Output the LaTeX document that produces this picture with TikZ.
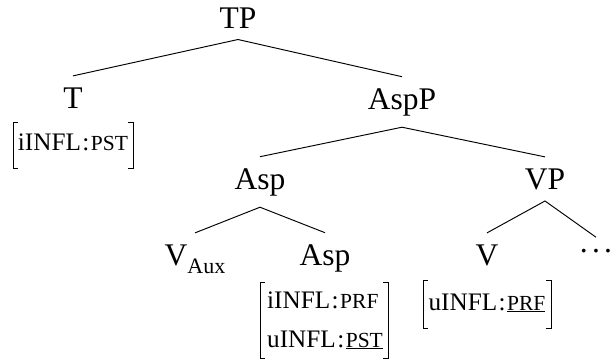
\documentclass[tikz,border=0pt]{standalone}
\usepackage{fontspec}
\setmainfont{Liberation Serif}
\newcommand\fsc[1]{{\fontsize{21.5}{24}\selectfont #1}}
\newcommand\fcol{\kern1.5pt:\kern1.5pt}
\newcommand\fbrk[4]{%
  \draw[brkline] (#1+5,#2) -- (#1,#2) -- (#1,#4) -- (#1+5,#4);
  \draw[brkline] (#3-5,#2) -- (#3,#2) -- (#3,#4) -- (#3-5,#4);}
\begin{document}
\begin{tikzpicture}[x=1pt,y=-1pt,
  lab/.style={font=\fontsize{31.5}{36}\selectfont, inner sep=0pt, outer xsep=0pt, outer ysep=11.5pt, anchor=base},
  feat/.style={font=\fontsize{25.2}{30}\selectfont, inner sep=0pt},
  edge/.style={line width=0.95pt, black},
  brkline/.style={line width=0.9pt, black}]
\useasboundingbox (0,0) rectangle (610,360);
% tree labels
\node[lab] (TP)   at (238,28)  {TP};
\node[lab] (T)    at (73,108)  {T};
\node[lab] (AspP) at (402,109) {AspP};
\node[lab] (Asp1) at (260,189) {Asp};
\node[lab] (VP)   at (545,189) {VP};
\node[lab] (VAux) at (195,265) {V\raisebox{-8pt}{\fontsize{22}{24}\selectfont Aux}};
\node[lab] (Asp2) at (325,265) {Asp};
\node[lab] (V)    at (487,265) {V};
\node[lab] (dots) at (596,252) {.\kern4.2pt.\kern4.2pt.};
% edges
\draw[edge] (T.north) -- (TP.south) -- (AspP.north);
\draw[edge] (Asp1.north) -- (AspP.south) -- (VP.north);
\draw[edge] (VAux.north) -- (Asp1.south) -- (Asp2.north);
\draw[edge] (V.north) -- (VP.south) -- (dots.north);
% features
\node[feat, anchor=base] (fT) at (73,150) {iINFL\fcol\fsc{PST}};
\fbrk{13}{122}{133}{168}
\node[feat, anchor=base west] (fA1) at (267,308) {iINFL\fcol\fsc{PRF}};
\node[feat, anchor=base west] (fA2) at (267,347) {uINFL\fcol\underline{\fsc{PST}}};
\fbrk{260}{282}{388}{358}
\node[feat, anchor=base] (fV) at (487,310) {uINFL\fcol\underline{\fsc{PRF}}};
\fbrk{423}{280}{551}{328}
\end{tikzpicture}
\end{document}
